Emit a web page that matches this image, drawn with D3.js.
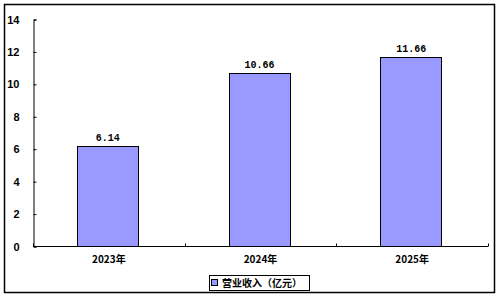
<!DOCTYPE html>
<html>
<head>
<meta charset="utf-8">
<script src="https://cdn.jsdelivr.net/npm/d3@7"></script>
<style>
  body { margin: 0; background: #fff; }
  svg { display: block; }
</style>
</head>
<body>
<svg width="499" height="297"></svg>
<script>
const years = ['2023年', '2024年', '2025年'];
const revenue = [6.14, 10.66, 11.66];
const yTicks = [0, 2, 4, 6, 8, 10, 12, 14];
const seriesName = '营业收入（亿元）';

const svg = d3.select('svg');
const margin = { left: 33, right: 11, top: 19, bottom: 51 };
const width = 499, height = 297;
const plotRight = width - margin.right;
const cjk = '"Noto Sans CJK SC", sans-serif';

// outer frame
svg.append('rect')
    .attr('x', 4.5).attr('y', 4.5)
    .attr('width', 490).attr('height', 288)
    .attr('fill', 'none').attr('stroke', '#000').attr('stroke-width', 1.5);

const x = d3.scaleBand()
    .domain(years)
    .range([margin.left, plotRight])
    .paddingInner(0.6).paddingOuter(0.3);

const y = d3.scaleLinear()
    .domain([0, 14])
    .range([height - margin.bottom, margin.top]);

const g = svg.append('g');

g.selectAll('rect.bar')
    .data(revenue)
    .enter().append('rect')
    .attr('class', 'bar')
    .attr('x', (d, i) => Math.floor(x(years[i]) - 1) + 0.5)
    .attr('y', d => Math.round(y(d)) + 0.5)
    .attr('width', Math.round(x.bandwidth()))
    .attr('height', d => Math.round(y(0)) - Math.round(y(d)))
    .attr('fill', '#9999ff')
    .attr('stroke', '#000')
    .attr('stroke-width', 1);

g.selectAll('text.val')
    .data(revenue)
    .enter().append('text')
    .attr('class', 'val')
    .attr('x', (d, i) => x(years[i]) - 1 + x.bandwidth() / 2)
    .attr('y', d => y(d) - 5)
    .attr('text-anchor', 'middle')
    .attr('font-family', '"Liberation Mono", monospace')
    .attr('font-weight', 'bold')
    .attr('font-size', 10)
    .text(d => d.toFixed(2));

// y axis
const yAxis = d3.axisLeft(y).tickValues(yTicks).tickSize(-3).tickPadding(14);
const ya = svg.append('g')
    .attr('transform', `translate(${margin.left + 0.5},0.5)`)
    .call(yAxis);
ya.select('.domain').attr('stroke', '#000');
ya.selectAll('.tick line').attr('stroke', '#000');
ya.selectAll('.tick text')
    .attr('font-family', '"Liberation Sans", Arial, sans-serif')
    .attr('font-weight', 'bold')
    .attr('font-size', 11)
    .attr('fill', '#000');

// x axis
const xAxis = d3.axisBottom(x).tickSize(0).tickPadding(9);
const xa = svg.append('g')
    .attr('transform', `translate(0,${y(0) + 0.5})`)
    .call(xAxis);
xa.select('.domain').attr('stroke', '#000')
    .attr('d', `M${margin.left},0H${plotRight}`);
xa.selectAll('.tick text')
    .attr('font-family', cjk)
    .attr('font-weight', 'bold')
    .attr('font-size', 10)
    .attr('fill', '#000');
// tick marks between categories
xa.selectAll('line.sep')
    .data(d3.range(years.length + 1))
    .enter().append('line')
    .attr('class', 'sep')
    .attr('x1', i => Math.round(margin.left + i * x.step()) + 0.5)
    .attr('x2', i => Math.round(margin.left + i * x.step()) + 0.5)
    .attr('y1', 0).attr('y2', -3)
    .attr('stroke', '#000');

// legend
const lg = svg.append('g').attr('transform', 'translate(209.5,275.5)');
lg.append('rect')
    .attr('width', 100).attr('height', 15)
    .attr('fill', '#fff').attr('stroke', '#000').attr('stroke-width', 1);
lg.append('rect')
    .attr('x', 2).attr('y', 4)
    .attr('width', 6).attr('height', 6)
    .attr('fill', '#9999ff').attr('stroke', '#000');
lg.append('text')
    .attr('x', 12.5).attr('y', 11.5)
    .attr('font-family', cjk)
    .attr('font-weight', 'bold')
    .attr('font-size', 10)
    .text(seriesName);
</script>
</body>
</html>
